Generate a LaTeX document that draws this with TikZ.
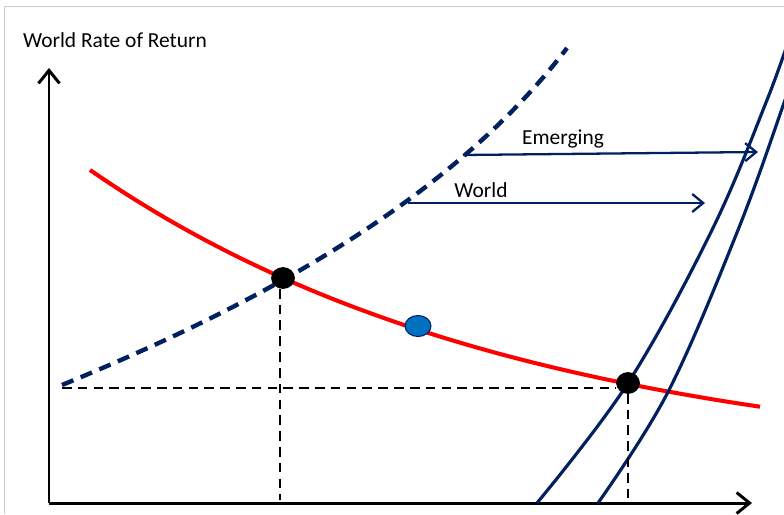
\documentclass[tikz,border=0pt]{standalone}
\usepackage{fontspec}
\setmainfont{Carlito}
\usetikzlibrary{arrows.meta,shapes.geometric}
\definecolor{navy}{RGB}{0,32,96}
\definecolor{dotblue}{RGB}{0,112,192}

\begin{document}
\begin{tikzpicture}[x=0.02cm,y=-0.02cm,
    axis/.style={line width=1.7pt,-{Straight Barb[length=2.6mm,width=4.2mm,line width=1.7pt]}},
    guide/.style={line width=1.3pt,dash pattern=on 5.5pt off 3.5pt},
    shiftarrow/.style={navy,line width=1.3pt,-{Straight Barb[length=2.2mm,width=3.6mm,line width=1.3pt]}},
    eqdot/.style={ellipse,draw=black,fill=black,minimum width=0.46cm,minimum height=0.42cm,inner sep=0pt},
    middot/.style={ellipse,draw=navy,line width=0.6pt,fill=dotblue,minimum width=0.52cm,minimum height=0.42cm,inner sep=0pt},
    lbl/.style={font=\fontsize{12.2}{14}\selectfont,inner sep=0pt}]
    \useasboundingbox (0,0) rectangle (784,514);
    \draw[black!20] (4,514) -- (4,6) -- (784,6);

    % Axes
    \coordinate (origin) at (49,503);
    \coordinate (ytop) at (49,68);
    \coordinate (xend) at (752,503);
    \draw[axis] (origin) -- (ytop);
    \draw[axis] (origin) -- (xend);
    \node[lbl] (ylabel) at (115,40) {World Rate of Return};

    % Curves
    \begin{scope}
        \clip (0,0) rectangle (784,514);
        \draw[navy,line width=2.5pt,dash pattern=on 7pt off 4.5pt]
            (62,385) .. controls (220,320) and (440,215) .. (567,48);
        \draw[red,line width=2.3pt]
            plot[domain=90:760,samples=60,smooth] (\x,{471-301*exp(-0.0023*(\x-90))});
        \draw[navy,line width=1.8pt]
            plot[smooth,tension=0.6] coordinates {(537,503) (628,383) (712,230) (767,100) (792,30)};
        \draw[navy,line width=1.8pt]
            plot[smooth,tension=0.6] coordinates {(598,503) (668,392) (738,230) (785,100) (805,40)};
    \end{scope}

    % Equilibrium points
    \node[eqdot] (eqA) at (283,278) {};
    \node[middot] (eqB) at (418,326) {};
    \node[eqdot] (eqC) at (628,383) {};

    % Guides to the axes
    \coordinate (hstart) at (62,388);
    \draw[guide] (hstart) -- (eqC.west |- hstart);
    \draw[guide] (eqA.south -| 280,0) -- (280,500);
    \draw[guide] (eqC.south) -- (eqC |- origin);

    % Shifts
    \coordinate (emS) at (463,155);
    \coordinate (emE) at (758,152);
    \coordinate (wS) at (408,203);
    \coordinate (wE) at (705,203);
    \draw[shiftarrow] (emS) -- (emE);
    \draw[shiftarrow] (wS) -- (wE);
    \node[lbl] (emlabel) at (563,139) {Emerging};
    \node[lbl] (wlabel) at (481,190) {World};
\end{tikzpicture}
\end{document}
